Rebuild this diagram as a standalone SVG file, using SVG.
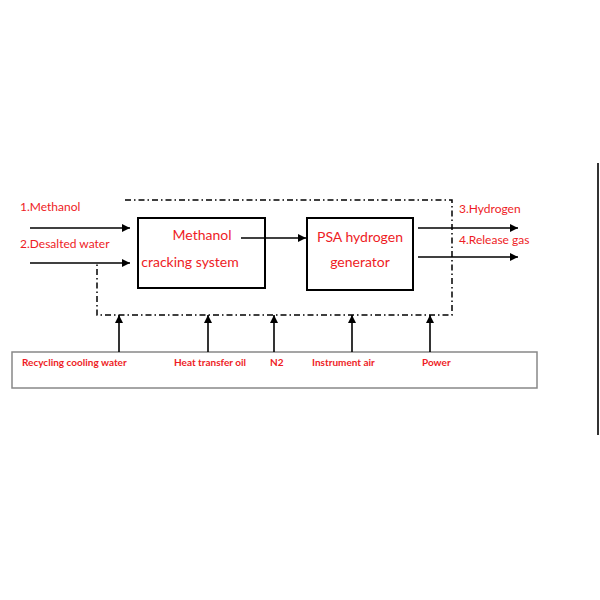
<svg xmlns="http://www.w3.org/2000/svg" width="600" height="600" viewBox="0 0 600 600">
<defs>
<marker id="ah" viewBox="0 0 10 10" refX="10" refY="5" markerWidth="8" markerHeight="8" markerUnits="userSpaceOnUse" orient="auto">
<path d="M0,0 L10,5 L0,10 z" fill="#000"/>
</marker>
</defs>
<style>
.lbl{font-family:Lato,"Liberation Sans",sans-serif;fill:#ee1c25;font-size:12px}
.box{fill:#fff;stroke:#000;stroke-width:2}
.util{font-family:Lato,"Liberation Sans",sans-serif;fill:#ee1c25;font-size:10px;font-weight:bold}
.arr{stroke:#000;stroke-width:1.6;fill:none;marker-end:url(#ah)}
.dd{stroke:#000;stroke-width:1.5;fill:none;stroke-dasharray:6 3 1.5 3}
</style>
<rect width="600" height="600" fill="#fff"/>
<g id="boundary">
<path class="dd" d="M125,200 H452 V315 H97 V263"/>
</g>
<g id="methanol-cracking">
<rect class="box" x="138" y="218" width="127" height="70"/>
<text class="lbl" x="202" y="240" font-size="14" text-anchor="middle" style="font-size:14px">Methanol</text>
<text class="lbl" x="190" y="267" text-anchor="middle" style="font-size:14px">cracking system</text>
</g>
<g id="psa">
<rect class="box" x="307" y="218" width="106" height="72"/>
<text class="lbl" x="360" y="242" text-anchor="middle" style="font-size:14px">PSA hydrogen</text>
<text class="lbl" x="360" y="267" text-anchor="middle" style="font-size:14px">generator</text>
</g>
<g id="utilities">
<rect x="12" y="352" width="525" height="36" fill="#fff" stroke="#888" stroke-width="1.5"/>
<text class="util" x="22" y="366">Recycling cooling water</text>
<text class="util" x="174" y="366">Heat transfer oil</text>
<text class="util" x="270" y="366">N2</text>
<text class="util" x="312" y="366">Instrument air</text>
<text class="util" x="422" y="366">Power</text>
</g>
<g id="labels">
<text class="lbl" x="20" y="211">1.Methanol</text>
<text class="lbl" x="20" y="248">2.Desalted water</text>
<text class="lbl" x="459" y="213">3.Hydrogen</text>
<text class="lbl" x="459" y="244">4.Release gas</text>
</g>
<g id="connectors">
<line class="arr" x1="30" y1="228" x2="130" y2="228"/>
<line class="arr" x1="30" y1="263" x2="130" y2="263"/>
<line class="arr" x1="241" y1="238" x2="306" y2="238"/>
<line class="arr" x1="418" y1="228" x2="518" y2="228"/>
<line class="arr" x1="418" y1="257" x2="518" y2="257"/>
<line class="arr" x1="119" y1="352" x2="119" y2="315"/>
<line class="arr" x1="208" y1="352" x2="208" y2="315"/>
<line class="arr" x1="274" y1="352" x2="274" y2="315"/>
<line class="arr" x1="352" y1="352" x2="352" y2="315"/>
<line class="arr" x1="430" y1="352" x2="430" y2="315"/>
</g>
<g id="edge-line">
<line x1="598" y1="163" x2="598" y2="435" stroke="#333" stroke-width="2"/>
</g>
</svg>
